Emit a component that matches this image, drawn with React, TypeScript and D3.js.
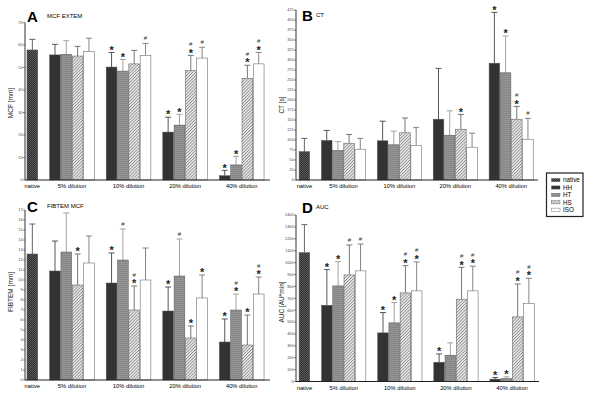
import * as d3 from 'd3';

const groups = ['5% dilution', '10% dilution', '20% dilution', '40% dilution'];
const seriesNames = ['HH', 'HT', 'HS', 'ISO'];
const legendNames = ['native', 'HH', 'HT', 'HS', 'ISO'];

// A: MCF EXTEM [mm]  (mean, sd per series x dilution)
const mcfNative = [57.8, 4.7];
const mcfMean = [[55.6, 50.2, 21.3, 1.9], [55.9, 48.4, 24.4, 6.7], [55.1, 51.6, 48.6, 45.2], [57.2, 55.4, 54.2, 51.6]];
const mcfSd = [[4.7, 6.5, 6.6, 2.4], [6.0, 5.2, 4.8, 3.8], [4.3, 6.0, 6.8, 5.8], [5.8, 5.3, 4.8, 5.1]];
const mcfSig = [['', '*', '*', '*'], ['', '*', '*', '*'], ['', '', '#*', '#*'], ['', '#', '#', '#*']];

// B: CT [s]
const ctNative = [71, 33];
const ctMean = [[99, 98, 152, 292], [74, 88, 112, 268], [92, 118, 127, 152], [77, 86, 82, 102]];
const ctSd = [[25, 49, 127, 127], [22, 34, 61, 92], [22, 37, 37, 32], [27, 45, 35, 52]];
const ctSig = [['', '', '', '*'], ['', '', '', '*'], ['', '', '*', '#*'], ['', '', '', '#']];

// C: FIBTEM MCF [mm]
const fibNative = [12.6, 3.0];
const fibMean = [[10.9, 9.7, 6.9, 3.8], [12.8, 12.0, 10.4, 7.0], [9.5, 7.0, 4.2, 3.5], [11.7, 10.0, 8.2, 8.6]];
const fibSd = [[3.0, 3.0, 2.4, 2.3], [3.9, 3.1, 3.7, 1.6], [3.1, 2.4, 1.2, 3.0], [2.7, 3.2, 2.3, 1.7]];
const fibSig = [['', '*', '*', '*'], ['', '#', '#', '#*'], ['*', '#*', '*', '*'], ['', '', '*', '#*']];

// D: AUC [AU*min]
const aucNative = [1084, 235];
const aucMean = [[641, 409, 162, 20], [804, 493, 221, 25], [896, 745, 692, 543], [930, 762, 762, 658]];
const aucSd = [[300, 171, 70, 14], [204, 171, 104, 14], [252, 229, 268, 277], [226, 243, 207, 210]];
const aucSig = [['*', '*', '*', '*'], ['*', '*', '', '*'], ['#', '#*', '#*', '#*'], ['#', '#*', '#*', '#*']];

const fills = ['url(#patHH)', 'url(#patHT)', 'url(#patHS)', '#ffffff'];
const errColors = ['#444', '#999', '#666', '#777'];
const FONT = 'Liberation Sans, Arial, sans-serif';

function Panel(props: any) {
  const { letter, title, yLabel, yMax, step, left, right, bottom, top, xDom, native, means, sds, sigs, lx, ly, yLabelY } = props;
  const x = d3.scaleLinear().domain(xDom).range([left, right]);
  const y = d3.scaleLinear().domain([0, yMax]).range([bottom, top]);
  const ticks = d3.range(0, yMax + step / 2, step);
  const bw = x(1) - x(0);

  const bars: any[] = [];
  bars.push({ key: 'native', u: 0, mean: native[0], sd: native[1], fill: 'url(#patNative)', err: '#555', sig: '' });
  groups.forEach((g, gi) => {
    seriesNames.forEach((s, si) => {
      bars.push({
        key: s + g,
        u: 2 + gi * 5 + si,
        mean: means[si][gi],
        sd: sds[si][gi],
        fill: fills[si],
        err: errColors[si],
        sig: sigs[si][gi],
      });
    });
  });

  return (
    <g>
      <text x={lx} y={ly} fontFamily={FONT} fontWeight="bold" fontSize={15}>{letter}</text>
      <text x={lx + (letter === 'A' || letter === 'C' ? 20 : 14)} y={ly - 4} fontFamily={FONT} fontSize={6}>{title}</text>
      <text transform={`translate(${left - 12},${yLabelY}) rotate(-90)`} textAnchor="middle" fontFamily={FONT} fontSize={6.5} fill="#222">{yLabel}</text>
      {ticks.map((t) => (
        <g key={t}>
          <line x1={left - 2} x2={left} y1={y(t)} y2={y(t)} stroke="#333" strokeWidth={0.6} />
          <text x={left - 2.5} y={y(t) + 1.4} textAnchor="end" fontFamily={FONT} fontSize={3.8} fill="#444">{t}</text>
        </g>
      ))}
      {bars.map((b) => {
        const cx = x(b.u + 0.5);
        const capY = y(b.mean + b.sd);
        const hasStar = b.sig.includes('*');
        const hasHash = b.sig.includes('#');
        const starBase = capY + 1.2;
        const hashBase = hasStar ? capY - 9.5 : capY - 3;
        return (
          <g key={b.key}>
            <line x1={cx} x2={cx} y1={y(b.mean)} y2={capY} stroke={b.err} strokeWidth={0.9} />
            <line x1={cx - 3} x2={cx + 3} y1={capY} y2={capY} stroke={b.err} strokeWidth={0.9} />
            <rect x={x(b.u) + 0.3} y={y(b.mean)} width={bw - 0.6} height={bottom - y(b.mean)} fill={b.fill} stroke="#555" strokeWidth={0.5} />
            {hasStar && <text x={cx} y={starBase} textAnchor="middle" fontFamily={FONT} fontWeight="bold" fontSize={11} fill="#222">*</text>}
            {hasHash && <text x={cx} y={hashBase} textAnchor="middle" fontFamily={FONT} fontSize={6} fill="#333">#</text>}
          </g>
        );
      })}
      <line x1={left} x2={left} y1={bottom} y2={top} stroke="#333" strokeWidth={1} />
      <line x1={left} x2={right} y1={bottom} y2={bottom} stroke="#222" strokeWidth={1} />
      <text x={x(0.5)} y={bottom + 8} textAnchor="middle" fontFamily={FONT} fontSize={5.8}>native</text>
      {groups.map((g, gi) => (
        <text key={g} x={x(2 + gi * 5 + 2)} y={bottom + 8} textAnchor="middle" fontFamily={FONT} fontSize={5.8}>{g}</text>
      ))}
    </g>
  );
}

export default function App() {
  const legendFills = ['url(#patNative)', 'url(#patHH)', 'url(#patHT)', 'url(#patHS)', '#ffffff'];
  return (
    <svg width={600} height={403} style={{ position: 'absolute', left: 0, top: 0, background: '#fff' }}>
      <defs>
        <pattern id="patNative" width={2} height={2} patternUnits="userSpaceOnUse">
          <rect width={2} height={2} fill="#2e2e2e" />
          <rect width={1} height={1} fill="#5c5c5c" />
          <rect x={1} y={1} width={1} height={1} fill="#5c5c5c" />
        </pattern>
        <pattern id="patHH" width={2} height={2} patternUnits="userSpaceOnUse">
          <rect width={2} height={2} fill="#333" />
        </pattern>
        <pattern id="patHT" width={2} height={2} patternUnits="userSpaceOnUse">
          <rect width={2} height={2} fill="#888" />
          <rect width={2} height={1} fill="#949494" />
        </pattern>
        <pattern id="patHS" width={2.2} height={2.2} patternUnits="userSpaceOnUse" patternTransform="rotate(45)">
          <rect width={2.2} height={2.2} fill="#f2f2f2" />
          <rect width={0.9} height={2.2} fill="#8a8a8a" />
        </pattern>
      </defs>
      <Panel letter="A" title="MCF EXTEM" yLabel="MCF [mm]" yMax={70} step={10} left={25} right={270} bottom={180} top={22.5}
        xDom={[-0.15, 21.5]} native={mcfNative} means={mcfMean} sds={mcfSd} sigs={mcfSig} lx={27} ly={22} yLabelY={103} />
      <Panel letter="B" title="CT" yLabel="CT [s]" yMax={425} step={25} left={296} right={538} bottom={180} top={10}
        xDom={[-0.25, 21.4]} native={ctNative} means={ctMean} sds={ctSd} sigs={ctSig} lx={302} ly={21} yLabelY={105} />
      <Panel letter="C" title="FIBTEM MCF" yLabel="FIBTEM [mm]" yMax={17} step={1} left={25} right={270} bottom={380} top={210}
        xDom={[-0.15, 21.5]} native={fibNative} means={fibMean} sds={fibSd} sigs={fibSig} lx={27} ly={212} yLabelY={292} />
      <Panel letter="D" title="AUC" yLabel="AUC [AU*min]" yMax={1400} step={100} left={296} right={539} bottom={381.5} top={215}
        xDom={[-0.25, 21.4]} native={aucNative} means={aucMean} sds={aucSd} sigs={aucSig} lx={302} ly={213} yLabelY={302} />
      <g>
        <rect x={546.5} y={173} width={36.5} height={43.5} fill="#fff" stroke="#222" strokeWidth={1.2} />
        {legendNames.map((n, i) => (
          <g key={n}>
            <rect x={551.5} y={178.5 + i * 7.4} width={8.5} height={3.2} fill={legendFills[i]} stroke="#555" strokeWidth={0.4} />
            <text x={563} y={182.3 + i * 7.4} fontFamily={FONT} fontSize={6.3}>{n}</text>
          </g>
        ))}
      </g>
    </svg>
  );
}
